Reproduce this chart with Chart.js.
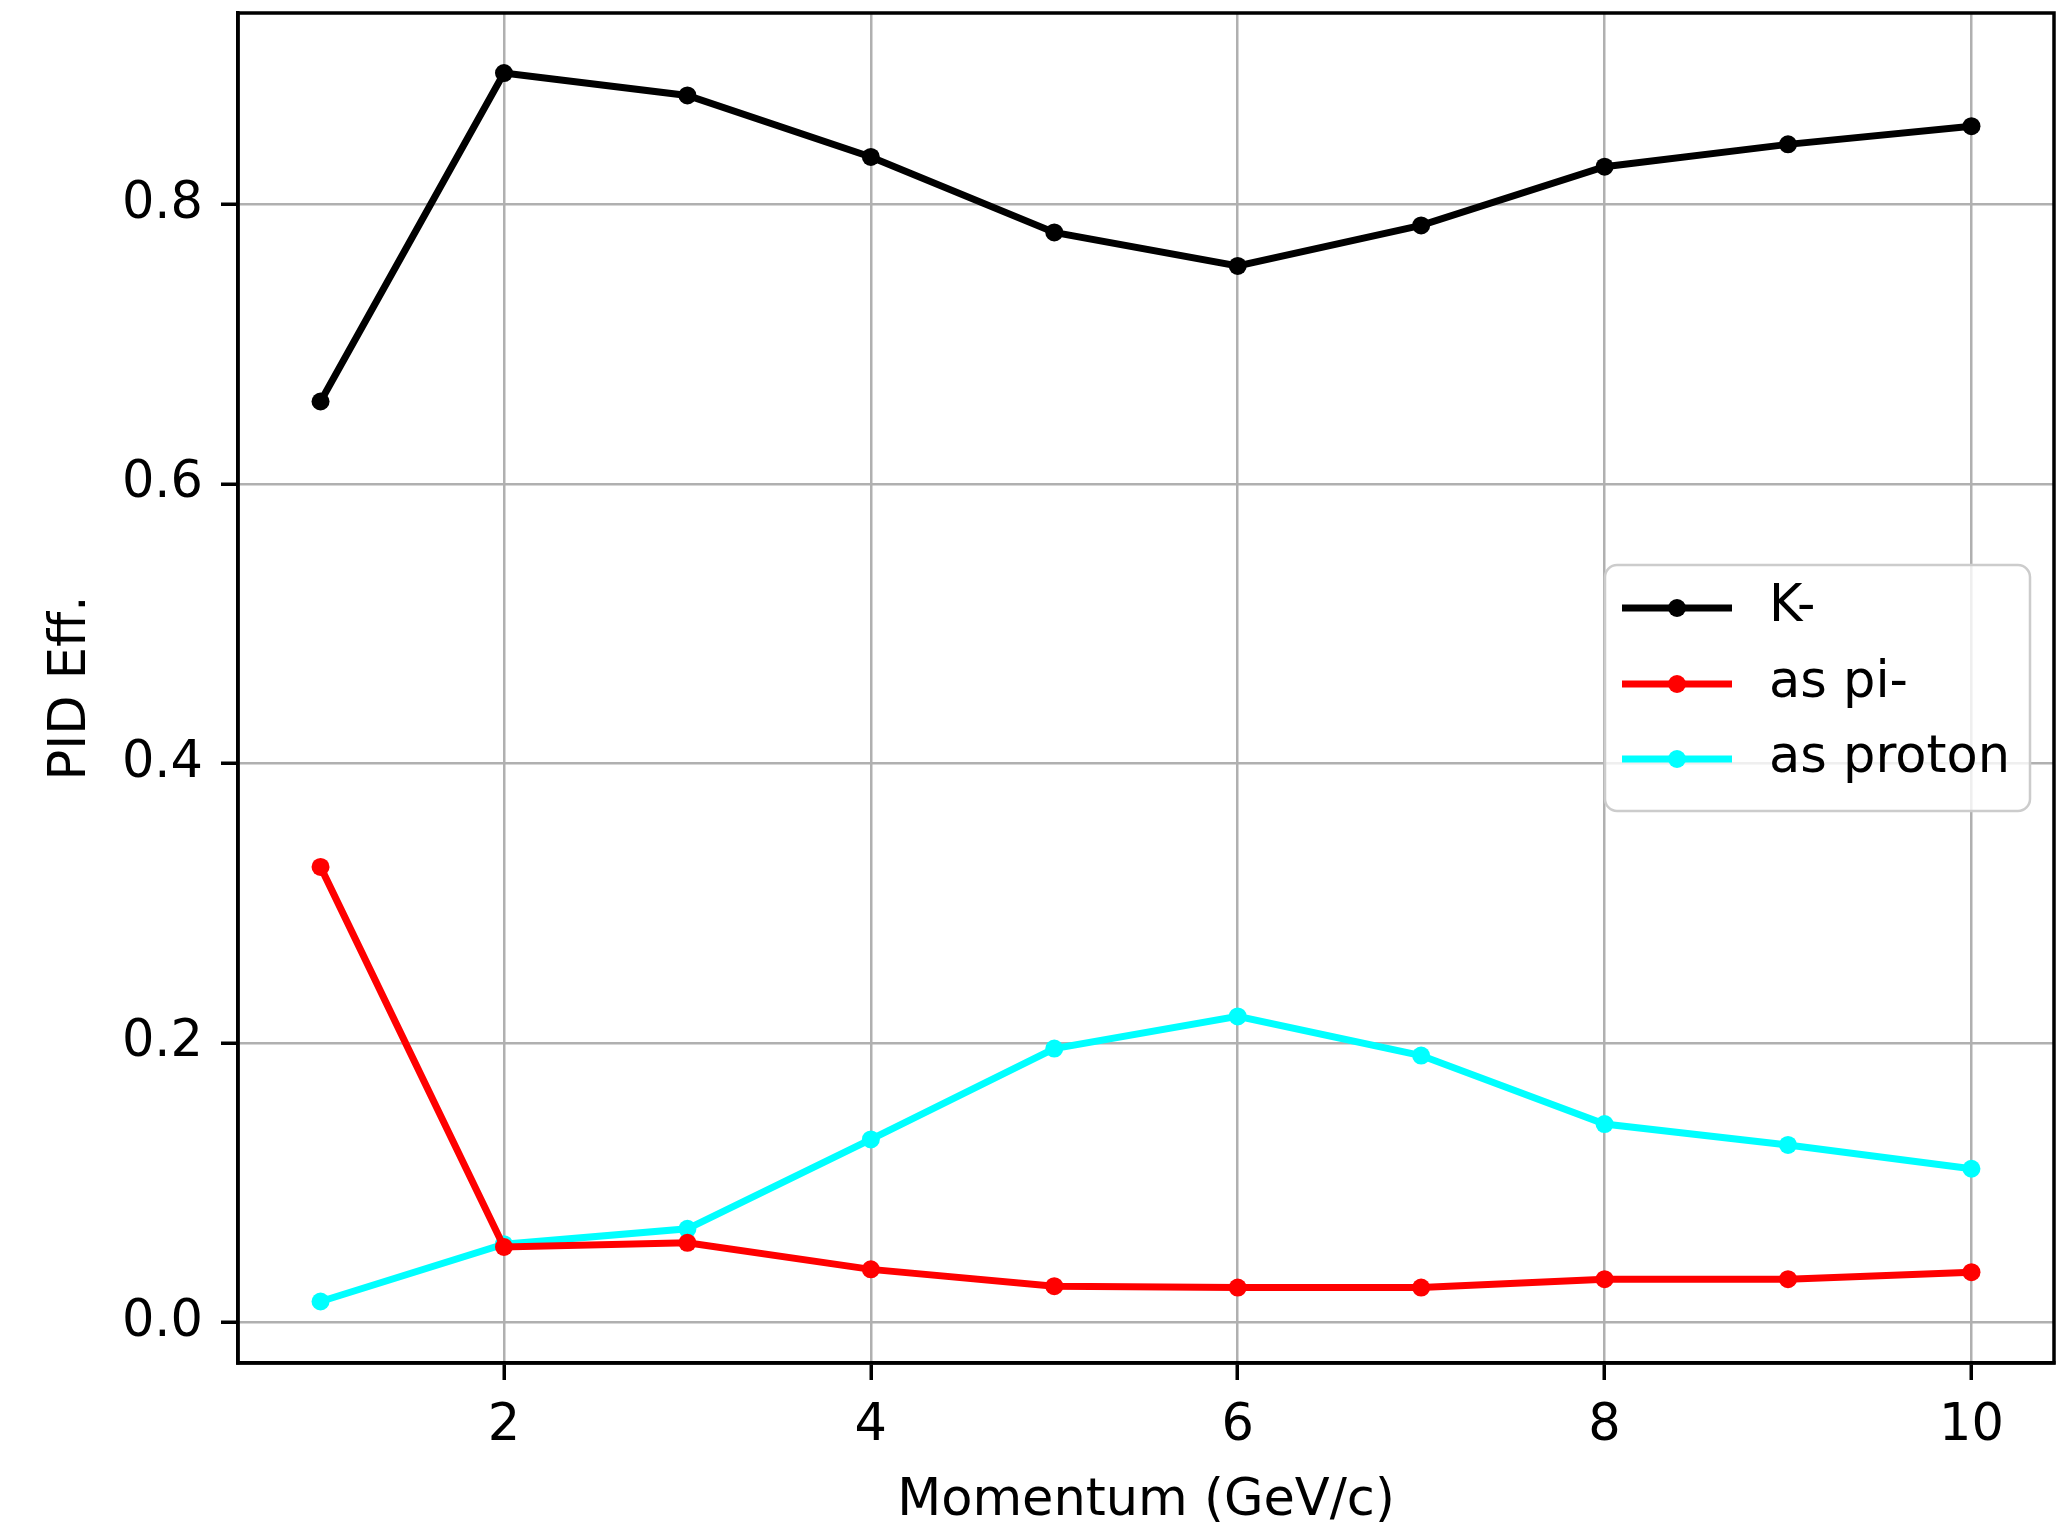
<!DOCTYPE html>
<html>
<head>
<meta charset="utf-8">
<script src="https://cdn.jsdelivr.net/npm/chart.js@4.4.0/dist/chart.umd.min.js"></script>
<style>
    html, body { margin: 0; padding: 0; background: #ffffff; }
    #pid-eff { display: block; }
</style>
</head>
<body>
<canvas id="pid-eff" width="2071" height="1522"></canvas>
<script>
// Momentum points (GeV/c)
var momentum = [1, 2, 3, 4, 5, 6, 7, 8, 9, 10];

// PID efficiency for K- and mis-id rates
var kMinus = [0.659, 0.894, 0.878, 0.834, 0.780, 0.756, 0.785, 0.827, 0.843, 0.856];
var asPiMinus = [0.326, 0.054, 0.057, 0.038, 0.026, 0.025, 0.025, 0.031, 0.031, 0.036];
var asProton = [0.015, 0.056, 0.067, 0.131, 0.196, 0.219, 0.191, 0.142, 0.127, 0.110];

var seriesLabels = ['K-', 'as pi-', 'as proton'];
var seriesColors = ['#000000', '#ff0000', '#00ffff'];

var xTicks = [2, 4, 6, 8, 10];
var yTicks = [0.0, 0.2, 0.4, 0.6, 0.8];

var FONT = 'DejaVu Sans';
var FONT_SIZE = 51;

function toPoints(values) {
    return momentum.map(function (m, i) { return { x: m, y: values[i] }; });
}

// frame around the axes, drawn on top of the lines like matplotlib spines
var framePlugin = {
    id: 'frame',
    afterDatasetsDraw: function (chart) {
        var a = chart.chartArea;
        var ctx = chart.ctx;
        ctx.save();
        ctx.strokeStyle = '#000000';
        ctx.lineWidth = 3.5;
        ctx.strokeRect(a.left, a.top, a.right - a.left, a.bottom - a.top);
        ctx.restore();
    }
};

// legend box inside the plot, right side
var legendPlugin = {
    id: 'boxLegend',
    afterDraw: function (chart) {
        var ctx = chart.ctx;
        var x0 = 1605, y0 = 565, w = 425, h = 246, r = 12;
        ctx.save();
        ctx.beginPath();
        ctx.roundRect(x0, y0, w, h, r);
        ctx.fillStyle = 'rgba(255,255,255,0.8)';
        ctx.fill();
        ctx.lineWidth = 2.5;
        ctx.strokeStyle = '#cccccc';
        ctx.stroke();

        var rows = [608, 684, 759];
        chart.data.datasets.forEach(function (ds, i) {
            var y = rows[i];
            ctx.strokeStyle = ds.borderColor;
            ctx.lineWidth = 7;
            ctx.beginPath();
            ctx.moveTo(1622, y);
            ctx.lineTo(1732, y);
            ctx.stroke();
            ctx.fillStyle = ds.borderColor;
            ctx.beginPath();
            ctx.arc(1677, y, 9, 0, Math.PI * 2);
            ctx.fill();
            ctx.fillStyle = '#000000';
            ctx.font = FONT_SIZE + 'px "' + FONT + '"';
            ctx.textAlign = 'left';
            ctx.textBaseline = 'middle';
            ctx.fillText(ds.label, 1769, y);
        });
        ctx.restore();
    }
};

var datasets = [kMinus, asPiMinus, asProton].map(function (vals, i) {
    return {
        label: seriesLabels[i],
        data: toPoints(vals),
        borderColor: seriesColors[i],
        backgroundColor: seriesColors[i],
        borderWidth: 7,
        pointRadius: 9,
        pointBorderWidth: 0,
        pointHoverRadius: 9,
        tension: 0
    };
});

var ctx = document.getElementById('pid-eff').getContext('2d');
var myChart = new Chart(ctx, {
    type: 'line',
    data: { datasets: datasets },
    plugins: [framePlugin, legendPlugin],
    options: {
        responsive: false,
        animation: false,
        devicePixelRatio: 1,
        layout: {
            autoPadding: false,
            padding: { left: 0, right: 17, top: 13, bottom: 0 }
        },
        plugins: {
            legend: { display: false },
            tooltip: { enabled: false }
        },
        scales: {
            x: {
                type: 'linear',
                min: 0.55,
                max: 10.45,
                afterFit: function (scale) {
                    scale.height = 159;
                    scale.paddingLeft = 0;
                    scale.paddingRight = 0;
                },
                afterBuildTicks: function (scale) {
                    scale.ticks = xTicks.map(function (v) { return { value: v }; });
                },
                grid: {
                    color: '#b0b0b0',
                    lineWidth: 2.5,
                    tickColor: '#000000',
                    tickLength: 17,
                    tickWidth: 3.5
                },
                border: { display: true, color: '#000000', width: 3.5 },
                ticks: {
                    color: '#000000',
                    padding: 16,
                    maxRotation: 0,
                    font: { family: FONT, size: FONT_SIZE }
                },
                title: {
                    display: true,
                    text: 'Momentum (GeV/c)',
                    color: '#000000',
                    padding: { top: 0, bottom: 0 },
                    font: { family: FONT, size: FONT_SIZE, lineHeight: 0.8 }
                }
            },
            y: {
                type: 'linear',
                min: -0.029,
                max: 0.937,
                afterFit: function (scale) {
                    scale.width = 238;
                    scale.paddingTop = 0;
                    scale.paddingBottom = 0;
                },
                afterBuildTicks: function (scale) {
                    scale.ticks = yTicks.map(function (v) { return { value: v }; });
                },
                grid: {
                    color: '#b0b0b0',
                    lineWidth: 2.5,
                    tickColor: '#000000',
                    tickLength: 17,
                    tickWidth: 3.5
                },
                border: { display: true, color: '#000000', width: 3.5 },
                ticks: {
                    color: '#000000',
                    padding: 18,
                    font: { family: FONT, size: FONT_SIZE },
                    callback: function (v) { return Number(v).toFixed(1); }
                },
                title: {
                    display: true,
                    text: 'PID Eff.',
                    color: '#000000',
                    padding: { top: 46, bottom: 0 },
                    font: { family: FONT, size: FONT_SIZE, lineHeight: 1 }
                }
            }
        }
    }
});
</script>
</body>
</html>
